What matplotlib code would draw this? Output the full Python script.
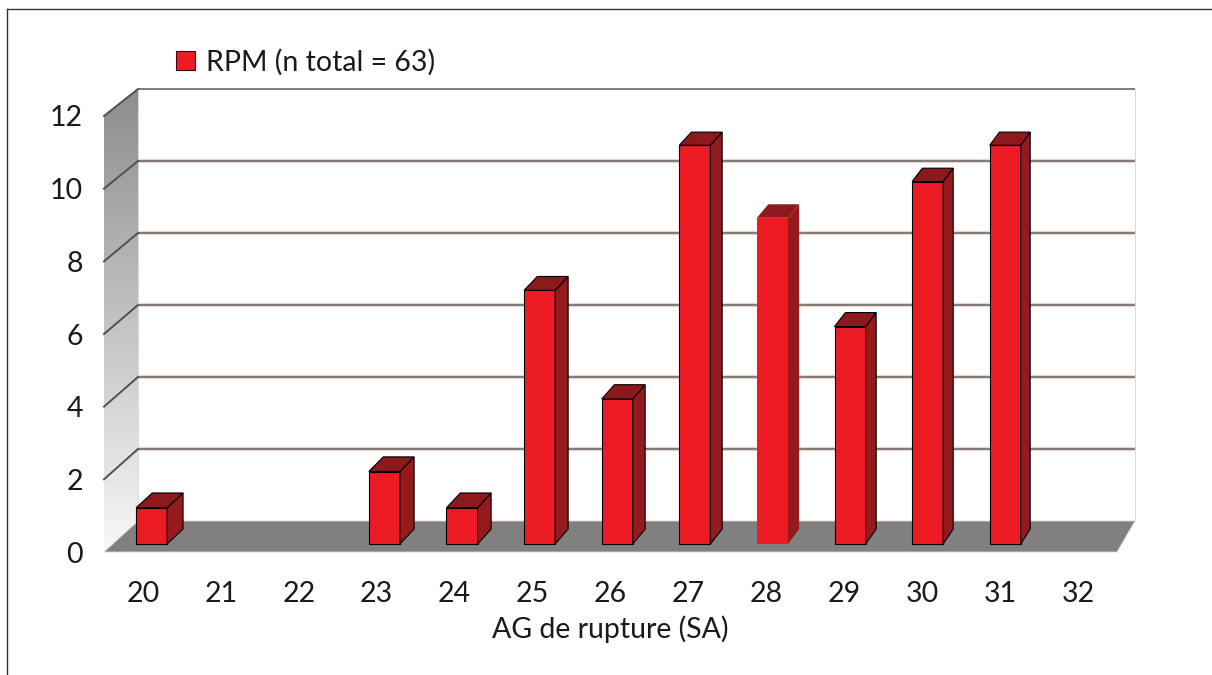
import numpy as np
import matplotlib
matplotlib.use("Agg")
import matplotlib.pyplot as plt
from matplotlib.patches import Polygon, Patch
from matplotlib.lines import Line2D

# data
weeks = [20, 21, 22, 23, 24, 25, 26, 27, 28, 29, 30, 31, 32]
counts = [1, 0, 0, 2, 1, 7, 4, 11, 9, 6, 10, 11, 0]
highlighted = 28
y_ticks = [0, 2, 4, 6, 8, 10, 12]
legend_label = "RPM (n total = 63)"
x_title = "AG de rupture (SA)"

FRONT = "#ED1C24"
SIDE = "#951A1D"
TOP = "#8C191B"
FLOOR = "#808080"
TXT = "#1a1a1a"
FS = 20.5

plt.rcParams["font.family"] = ["Lato", "DejaVu Sans"]

fig = plt.figure(figsize=(12.12, 6.75), dpi=100)
ax = fig.add_axes([0.08581, 0.18222, 0.83581, 0.64593])
x0, x1 = weeks[0] - 0.5, weeks[-1] + 0.5
ymax = y_ticks[-1]

# pixel scale of the data units, used for the fake 3d depth
px_x = 1013 / (x1 - x0)
px_y = 436 / ymax


def proj(c, v, t):
    """front-plane point (c, v) pushed back to depth t (0 front, 1 back wall)"""
    dx = t * (34 - 16 * (c - x0) / (x1 - x0))
    dy = t * (31 - 4 * v / ymax)
    return (c + dx / px_x, v + dy / px_y)


def poly(pts, **kw):
    p = Polygon(pts, closed=True, clip_on=False, **kw)
    ax.add_patch(p)
    return p


# back wall
poly([proj(x0, 0, 1), proj(x1, 0, 1), proj(x1, ymax, 1), proj(x0, ymax, 1)],
     facecolor="white", edgecolor="#dcdcdc", lw=0.8, zorder=1)

# left wall with gradient
wall = poly([proj(x0, 0, 0), proj(x0, 0, 1), proj(x0, ymax, 1), proj(x0, ymax, 0)],
            facecolor="none", edgecolor="none", zorder=2)
wx0, wy0 = proj(x0, 0, 0)
wx1, wy1 = proj(x0, ymax, 1)
grad = np.linspace(0.97, 0.55, 256).reshape(-1, 1)
im = ax.imshow(grad, cmap="gray", vmin=0, vmax=1, aspect="auto",
               extent=[wx0, wx1, wy0, wy1], origin="lower", zorder=2)
im.set_clip_box(fig.bbox)
im.set_clip_path(wall)
ax.set_xlim(x0, x1)
ax.set_ylim(0, ymax)

# floor
poly([proj(x0, 0, 0), proj(x1, 0, 0), proj(x1, 0, 1), proj(x0, 0, 1)],
     facecolor=FLOOR, edgecolor="#f2d0c8", lw=0.6, zorder=3)

# gridlines on back wall and left wall
for v in y_ticks[1:]:
    a, b = proj(x0, v, 1), proj(x1, v, 1)
    if v < ymax:
        ax.plot([a[0], b[0]], [a[1], b[1]], color="#f7d2c6", lw=3.0, zorder=3,
                clip_on=False, solid_capstyle="butt")
    ax.plot([a[0], b[0]], [a[1], b[1]], color="#737575", lw=1.3, zorder=3,
            clip_on=False, solid_capstyle="butt")
    c, d = proj(x0, v, 0), proj(x0, v, 1)
    ax.plot([c[0], d[0]], [c[1], d[1]], color="#4a5252", lw=1.4, zorder=3,
            clip_on=False)

# bars
w, t0, t1 = 0.2, 0.258, 0.74
for c, v in zip(weeks, counts):
    if v <= 0:
        continue
    if c == highlighted:
        ec, lw = "none", 0
    else:
        ec, lw = "black", 0.8
    poly([proj(c - w, 0, t0), proj(c + w, 0, t0), proj(c + w, v, t0), proj(c - w, v, t0)],
         facecolor=FRONT, edgecolor=ec, lw=lw, zorder=5)
    poly([proj(c + w, 0, t0), proj(c + w, 0, t1), proj(c + w, v, t1), proj(c + w, v, t0)],
         facecolor=SIDE, edgecolor=ec, lw=lw, zorder=5)
    poly([proj(c - w, v, t0), proj(c + w, v, t0), proj(c + w, v, t1), proj(c - w, v, t1)],
         facecolor=TOP, edgecolor=ec, lw=lw, zorder=5)

# axes text
ax.set_xticks(weeks)
ax.set_xticklabels([str(x) for x in weeks])
ax.set_yticks(y_ticks)
ax.set_yticklabels([str(y) for y in y_ticks])
ax.tick_params(axis="both", length=0, labelsize=FS, colors=TXT)
ax.tick_params(axis="y", pad=15)
ax.tick_params(axis="x", pad=21)
ax.set_xlabel(x_title, fontsize=FS, color=TXT, labelpad=6)
for s in ax.spines.values():
    s.set_visible(False)
ax.set_facecolor("none")

handle = Patch(facecolor=FRONT, edgecolor="#3a0a0a", lw=0.8)
ax.legend([handle], [legend_label], loc="center left",
          bbox_to_anchor=(176 / 1212, 1 - 62 / 675), bbox_transform=fig.transFigure,
          frameon=False, fontsize=FS, handlelength=0.68, handleheight=0.68,
          handletextpad=0.36, borderpad=0, borderaxespad=0, labelcolor=TXT)

# outer frame
fig.add_artist(Line2D([7 / 1212, 7 / 1212], [0, 1 - 9 / 675], color="#333333", lw=1.0))
fig.add_artist(Line2D([7 / 1212, 1], [1 - 9 / 675, 1 - 9 / 675], color="#333333", lw=1.0))

fig.savefig("out.png", dpi=100)
